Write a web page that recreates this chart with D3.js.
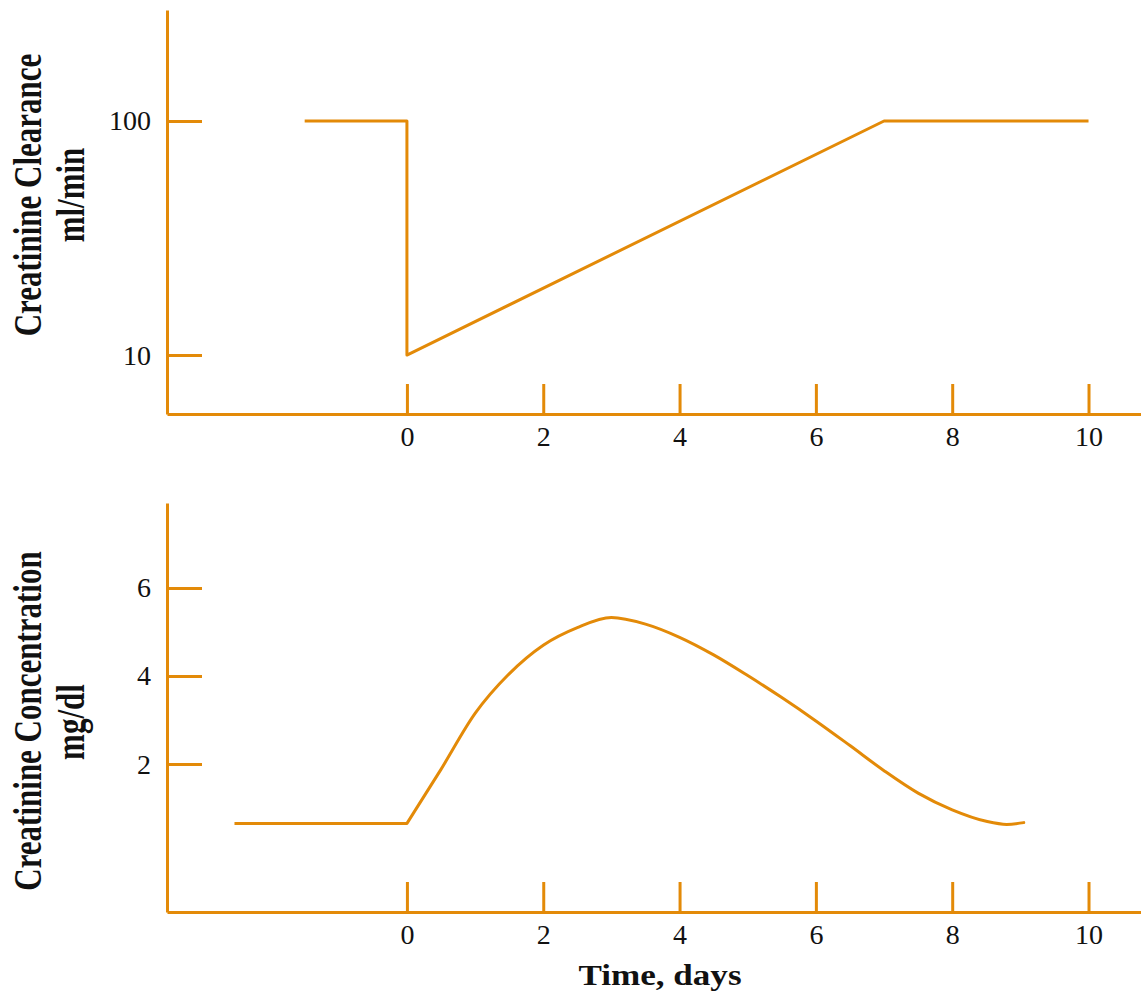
<!DOCTYPE html>
<html>
<head>
<meta charset="utf-8">
<script src="https://cdn.jsdelivr.net/npm/d3@7"></script>
<style>
  html, body { margin: 0; padding: 0; background: #fff; }
  svg { display: block; }
</style>
</head>
<body>
<div id="chart"></div>
<script>
// data
const dayTicks = [0, 2, 4, 6, 8, 10];
const clearanceTicks = [10, 100];
const concTicks = [2, 4, 6];

const clearanceDays = [-1.5, 0, 0, 7, 10];
const clearanceVals = [100, 100, 10, 100, 100];

const concDays = [-2.53, 0, 0.5, 1, 1.5, 2, 2.5, 3, 3.5, 4, 4.5, 5, 5.5, 6, 6.5, 7, 7.5, 8, 8.5, 8.8, 9.05];
const concVals = [0.65, 0.65, 1.88, 3.15, 4.05, 4.7, 5.1, 5.33, 5.18, 4.88, 4.48, 4.01, 3.51, 2.98, 2.42, 1.85, 1.34, 0.96, 0.70, 0.63, 0.67];

const W = 1141, H = 993;
const ORANGE = "#e38a08";
const SERIF = "'Liberation Serif', 'Times New Roman', serif";

const svg = d3.select("#chart").append("svg")
  .attr("width", W).attr("height", H)
  .attr("viewBox", `0 0 ${W} ${H}`);

// shared x scale (days); axis runs from the y-axis to the right edge
const x = d3.scaleLinear().domain([-3.52, 10.77]).range([167, 1141]);

function drawPanel(yScale, yTickVals, yFmt, bottom) {
  const g = svg.append("g");

  // y axis
  const ya = g.append("g").attr("transform", `translate(${x.range()[0]},0)`)
    .call(d3.axisLeft(yScale).tickValues(yTickVals).tickFormat(yFmt)
      .tickSize(-35).tickSizeOuter(0).tickPadding(16));
  // x axis
  const xa = g.append("g").attr("transform", `translate(0,${bottom})`)
    .call(d3.axisBottom(x).tickValues(dayTicks).tickFormat(d3.format("d"))
      .tickSize(-30).tickSizeOuter(0).tickPadding(12));

  [ya, xa].forEach(a => {
    a.select(".domain").attr("stroke", ORANGE).attr("stroke-width", 3);
    a.selectAll(".tick line").attr("stroke", ORANGE).attr("stroke-width", 3);
    a.selectAll(".tick text")
      .attr("fill", "#111")
      .style("font-family", SERIF)
      .style("font-size", "28px");
  });
  return g;
}

// ---- top: creatinine clearance (log) ----
const yTop = d3.scaleLog().domain([5.6, 298]).range([414, 10]);
const topPanel = drawPanel(yTop, clearanceTicks, d3.format("d"), 414);

const clearance = clearanceDays.map((d, i) => ({ day: d, v: clearanceVals[i] }));
topPanel.append("path")
  .datum(clearance)
  .attr("fill", "none")
  .attr("stroke", ORANGE)
  .attr("stroke-width", 3)
  .attr("stroke-linejoin", "round")
  .attr("d", d3.line().x(d => x(d.day)).y(d => yTop(d.v)));

// ---- bottom: creatinine concentration ----
const yBot = d3.scaleLinear().domain([-1.36, 7.93]).range([912, 503]);
const botPanel = drawPanel(yBot, concTicks, d3.format("d"), 912);

const conc = concDays.map((d, i) => ({ day: d, v: concVals[i] }));
const flat = conc.filter(d => d.day <= 0);
const rise = conc.filter(d => d.day >= 0);

botPanel.append("path")
  .datum(flat)
  .attr("fill", "none").attr("stroke", ORANGE).attr("stroke-width", 3)
  .attr("d", d3.line().x(d => x(d.day)).y(d => yBot(d.v)));
botPanel.append("path")
  .datum(rise)
  .attr("fill", "none").attr("stroke", ORANGE).attr("stroke-width", 3)
  .attr("stroke-linecap", "round")
  .attr("d", d3.line().curve(d3.curveMonotoneX).x(d => x(d.day)).y(d => yBot(d.v)));

// ---- titles ----
function vLabel(text, px, py) {
  svg.append("text")
    .attr("transform", `translate(${px},${py}) scale(1.3,1) rotate(-90)`)
    .attr("text-anchor", "middle")
    .style("font-family", SERIF)
    .style("font-weight", "bold")
    .style("font-size", "31px")
    .attr("fill", "#111")
    .text(text);
}
vLabel("Creatinine Clearance", 41, 195);
vLabel("ml/min", 84, 195);
vLabel("Creatinine Concentration", 41, 721);
vLabel("mg/dl", 84, 722);

svg.append("text")
  .attr("transform", `translate(660,985) scale(1.17,1)`)
  .attr("text-anchor", "middle")
  .style("font-family", SERIF)
  .style("font-weight", "bold")
  .style("font-size", "30px")
  .attr("fill", "#111")
  .text("Time, days");
</script>
</body>
</html>
